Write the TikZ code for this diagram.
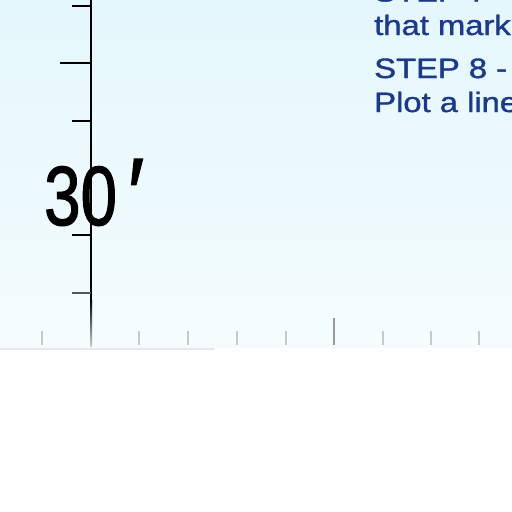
\documentclass[tikz,border=0pt]{standalone}
\usepackage{fontspec}
\setmainfont{Liberation Sans}
\newfontfamily\stepfont[FakeBold=1.2]{Liberation Sans}
\newfontfamily\labfont[FakeBold=1.6]{Liberation Sans}
\definecolor{skytop}{RGB}{228,247,252}
\definecolor{skybot}{RGB}{244,252,254}
\definecolor{stepblue}{RGB}{28,58,135}
\definecolor{tickgray}{RGB}{200,200,200}
\begin{document}
\begin{tikzpicture}[x=1pt,y=-1pt,
  axisline/.style={line width=2pt, black},
  sidetick/.style={line width=2pt, black},
  bottick/.style={line width=2pt, tickgray},
  steptext/.style={anchor=base west, inner sep=0pt, text=stepblue,
    font=\stepfont\fontsize{28}{34}\selectfont, xscale=1.17},
  biglabel/.style={inner sep=0pt, anchor=base west, font=\labfont\fontsize{84}{84}\selectfont, xscale=0.78}]
\useasboundingbox (0,0) rectangle (512,512);
\fill[white] (0,0) rectangle (512,512);
\shade[top color=skytop, bottom color=skybot] (0,0) rectangle (512,347);
\draw[line width=1.5pt, black!9] (0,349) -- (215,349);
% vertical axis
\coordinate (atop) at (91,0);
\coordinate (amid) at (91,300);
\draw[axisline] (atop) -- (amid);
\shade[top color=black, bottom color=black!20] (90,300) rectangle (92,346);
% side ticks
\foreach \y/\x in {6/72, 63/60, 121/72, 235/72}{
  \coordinate (t\y) at (91,\y);
  \draw[sidetick] (\x,\y) -- (t\y);
}
\coordinate (t293) at (91,293);
\draw[sidetick, black!65] (72,293) -- (t293);
% bottom ticks
\foreach \x in {42,139,188,237,286,383,431,479}{
  \coordinate (b\x) at (\x,345);
  \draw[bottick] (\x,331) -- (b\x);
}
\coordinate (b334) at (334,345);
\draw[bottick, black!40] (334,318) -- (b334);
% label
\node[biglabel] (lab) at (44,225) {30};
\node[inner sep=0pt, anchor=base west, font=\labfont\fontsize{100}{100}\selectfont, xscale=0.85] (prime) at (128,228) {′};
% step text (clipped at the picture edge)
\begin{scope}
\clip (0,0) rectangle (512,512);
\node[steptext] (s7) at (374,1.5) {STEP 7 - };
\node[steptext] (s7b) at (374,35) {that mark};
\node[steptext] (s8) at (374,78) {STEP 8 - T};
\node[steptext] (s8b) at (374,112) {Plot a line};
\end{scope}
\end{tikzpicture}
\end{document}
